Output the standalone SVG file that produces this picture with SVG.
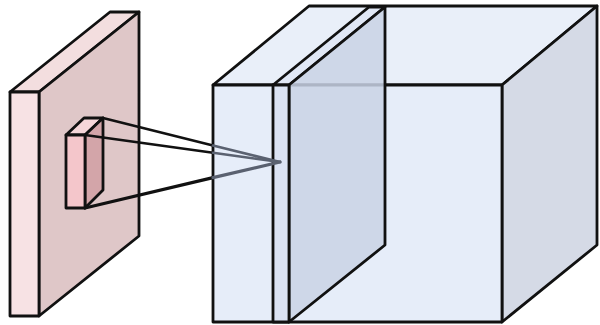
<svg xmlns="http://www.w3.org/2000/svg" width="600" height="325" viewBox="0 0 600 325">
<style>
.edge{stroke:#111;stroke-width:2.8;stroke-linejoin:round;stroke-linecap:round}
.ray{stroke:#111;stroke-width:2.6;stroke-linecap:round;fill:none}
.ray-in{stroke:#5a6170;stroke-width:2.6;stroke-linecap:round;fill:none}
</style>
<rect width="600" height="325" fill="#ffffff"/>
<g id="input-slab">
<polygon class="edge" points="10,92 110,12 139,12 39,92" fill="#f3dedf"/>
<polygon class="edge" points="39,92 139,12 139,236 39,316" fill="#dfc7c8"/>
<polygon class="edge" points="10,92 39,92 39,316 10,316" fill="#f7e2e4"/>
</g>
<g id="kernel">
<polygon class="edge" points="66,135 84,118 103,118 85,135" fill="#f5d6d9"/>
<polygon class="edge" points="85,135 103,118 103,190 85,208" fill="#d3a5a9"/>
<polygon class="edge" points="66,135 85,135 85,208 66,208" fill="#f4c6cb"/>
</g>
<g id="output-volume">
<polygon class="edge" points="213,85 309,6 597,6 502,85" fill="#e9eff9"/>
<polygon class="edge" points="502,85 597,6 597,245 502,322" fill="#d5dae6"/>
<polygon class="edge" points="213,85 502,85 502,322 213,322" fill="#e6edf9"/>
</g>
<g id="slice">
<polygon class="edge" points="273,85 369,7 385,7 289,85" fill="#e0e7f5"/>
<polygon points="289,85 385,7 385,245 289,322" fill="#c9d2e5" fill-opacity="0.85"/>
<polygon points="289,85 385,7 385,245 289,322" fill="none" class="edge"/>
<polygon class="edge" points="273,85 289,85 289,322 273,322" fill="#dbe3f4"/>
</g>
<g id="connectors">
<line class="ray" x1="103" y1="118" x2="213" y2="145.5"/>
<line class="ray" x1="85" y1="135" x2="213" y2="152.8"/>
<line class="ray" x1="85" y1="208" x2="213" y2="177.6" style="stroke-width:3.2"/>
<line class="ray-in" x1="213" y1="145.5" x2="280" y2="162"/>
<line class="ray-in" x1="213" y1="152.8" x2="280" y2="162"/>
<line class="ray-in" x1="213" y1="177.6" x2="280" y2="162" style="stroke-width:3.2"/>
</g>
</svg>
